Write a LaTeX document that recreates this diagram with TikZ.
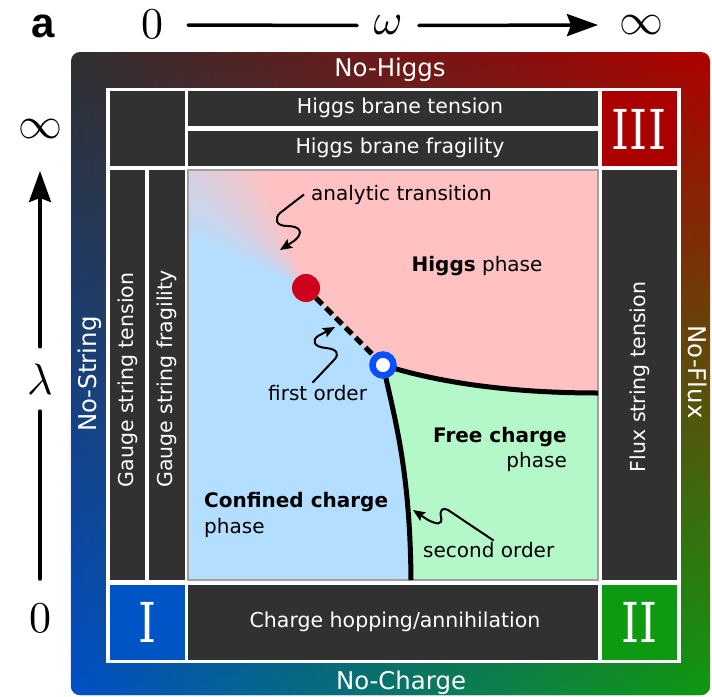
\documentclass[tikz,border=0pt]{standalone}
\usepackage[no-math]{fontspec}
\setmainfont{DejaVu Sans}
\newfontfamily\romanf{DejaVu Serif}
\newfontfamily\labf{Liberation Sans}
\usetikzlibrary{arrows.meta,fadings,calc}

\definecolor{cdark}{HTML}{313131}
\definecolor{cTL}{HTML}{303030}
\definecolor{cTR}{HTML}{B00000}
\definecolor{cBL}{HTML}{0050C8}
\definecolor{cBR}{HTML}{0E9A10}
\definecolor{cIII}{HTML}{AA0000}
\definecolor{cI}{HTML}{0055C6}
\definecolor{cII}{HTML}{0D9A12}
\definecolor{phblue}{HTML}{B3DEFF}
\definecolor{phpink}{HTML}{FFC1C1}
\definecolor{phgreen}{HTML}{B4F7C8}
\definecolor{cgray}{HTML}{A0A0A0}
\definecolor{cred}{HTML}{D0001C}
\definecolor{cring}{HTML}{0A50FF}

\tikzfading[name=fadedown, top color=transparent!100, bottom color=transparent!0]
\pgfdeclarelayer{back}
\pgfdeclarelayer{mid}
\pgfsetlayers{back,mid,main}
\newcommand{\axmath}[1]{\scalebox{4.4}{$#1$}}

\begin{document}
\begin{tikzpicture}[x=1pt,y=-1pt,
  cell/.style={fill=cdark, inner sep=0pt, outer sep=0pt},
  celltext/.style={text=white, font=\fontsize{20.5}{24}\selectfont, inner sep=0pt},
  edgetext/.style={text=white, font=\fontsize{24.4}{28}\selectfont, inner sep=0pt},
  phtext/.style={text=black, font=\fontsize{20}{24}\selectfont, inner sep=0pt},
  axlab/.style={inner sep=0pt},
  numeral/.style={text=white, font=\romanf\fontsize{55}{60}\selectfont, inner sep=0pt, xscale=0.83},
  axline/.style={line width=3.5pt, line cap=round},
  bigtip/.style={-{Stealth[length=31pt,width=22pt,inset=4pt]}},
  sq/.style={line width=2pt, -{Stealth[length=12pt,width=10pt,inset=2pt]}},
  bound/.style={line width=5pt},
]
\useasboundingbox (0,0) rectangle (712,696);

% ---------- axes ----------
\node[font=\labf\bfseries\fontsize{42}{46}\selectfont, inner sep=0pt, anchor=base] (lbla) at (43,37) {a};
\node[axlab] (tzero) at (152,24.5) {\axmath{0}};
\node[axlab, inner xsep=16.3pt] (omega) at (388,25.5) {\axmath{\omega}};
\node[axlab] (tinf) at (641,25.5) {\axmath{\infty}};
\coordinate (tx0) at (188,25);
\coordinate (tx1) at (598,25);
\draw[axline] (tx0) -- (omega.west);
\draw[axline, bigtip] (omega.east) -- (tx1);

\node[axlab] (linf) at (40,129) {\axmath{\infty}};
\node[axlab, inner ysep=16.7pt] (lambda) at (40,379) {\axmath{\lambda}};
\node[axlab] (lzero) at (40,618) {\axmath{0}};
\coordinate (ly1) at (40,171);
\coordinate (ly0) at (40,579);
\draw[axline, bigtip] (lambda.north) -- (ly1);
\draw[axline] (lambda.south) -- (ly0);

% ---------- critical points ----------
\node[circle, fill=cred, minimum size=28pt, inner sep=0pt] (crit) at (306,288) {};
\node[circle, draw=cring, line width=6.5pt, fill=white, minimum size=21pt, inner sep=0pt] (tri) at (383,365) {};
\coordinate (qa) at (598,393);
\coordinate (qb) at (411,580);

% ---------- frame, cells, phase regions ----------
\begin{pgfonlayer}{back}
  \shade[rounded corners=9pt, left color=cTL, right color=cTR] (71,52) rectangle (710,695);
  \shade[rounded corners=9pt, left color=cBL, right color=cBR, path fading=fadedown] (71,52) rectangle (710,695);
  \fill[white] (106,88) rectangle (681,663);

  \node[cell, minimum width=75pt, minimum height=75pt] (ctl) at (147.5,128.5) {};
  \node[cell, minimum width=410pt, minimum height=35pt] (chbt) at (393,108.5) {};
  \node[cell, minimum width=410pt, minimum height=35pt] (chbf) at (393,148.5) {};
  \node[cell, fill=cIII, minimum width=75pt, minimum height=75pt] (cIIIbox) at (639.5,128.5) {};
  \node[cell, minimum width=35pt, minimum height=410pt] (cgst) at (127.5,375) {};
  \node[cell, minimum width=36pt, minimum height=410pt] (cgsf) at (167,375) {};
  \node[cell, minimum width=75pt, minimum height=410pt] (cfst) at (639.5,375) {};
  \node[cell, fill=cI, minimum width=75pt, minimum height=75pt] (cIbox) at (147.5,622.5) {};
  \node[cell, minimum width=410pt, minimum height=75pt] (cchh) at (393,622.5) {};
  \node[cell, fill=cII, minimum width=75pt, minimum height=75pt] (cIIbox) at (639.5,622.5) {};

  \begin{scope}
    \clip (188,170) rectangle (598,580);
    \fill[phblue] (188,170) rectangle (598,580);
    \fill[phpink] (crit.center) -- (88,70) -- (700,70) -- (700,393) -- (qa)
      .. controls (500,393) and (430,380) .. (tri.center) -- cycle;
    \fill[phgreen] (tri.center) .. controls (395,420) and (410,470) .. (qb) -- (598,580) -- (qa)
      .. controls (500,393) and (430,380) .. (tri.center) -- cycle;
    \foreach \i in {0,...,24} {
      \pgfmathsetmacro\pp{4*\i}
      \pgfmathsetmacro\aa{200+2*\i}
      \pgfmathsetmacro\ab{\aa+2.4}
      \fill[phpink!\pp!phblue] (crit.center) -- ($(crit.center)+(\aa:420)$) -- ($(crit.center)+(\ab:420)$) -- cycle;
    }
  \end{scope}
  \draw[cgray, line width=2pt] (188,170) rectangle (598,580);
\end{pgfonlayer}

% ---------- phase boundaries ----------
\begin{pgfonlayer}{mid}
  \draw[bound] (tri.center) .. controls (430,380) and (500,393) .. (qa);
  \draw[bound] (tri.center) .. controls (395,420) and (410,470) .. (qb);
  \draw[bound, dash pattern=on 9pt off 5pt] (crit.center) -- (tri.center);
\end{pgfonlayer}

% ---------- texts ----------
\node[edgetext, anchor=base] (nohiggs) at (390,76) {No-Higgs};
\node[edgetext, anchor=base] (nocharge) at (401,689) {No-Charge};
\node[edgetext, rotate=90] (nostring) at (90,374) {No-String};
\node[edgetext, rotate=-90] (noflux) at (698,372) {No-Flux};

\node[celltext, anchor=base] (thbt) at (400,113) {Higgs brane tension};
\node[celltext, anchor=base] (thbf) at (400,153) {Higgs brane fragility};
\node[celltext, anchor=base] (tchh) at (395,627) {Charge hopping/annihilation};
\node[celltext, rotate=90] (tgst) at (128,380) {Gauge string tension};
\node[celltext, rotate=90] (tgsf) at (167,379) {Gauge string fragility};
\node[celltext, rotate=90] (tfst) at (640,377) {Flux string tension};

\node[numeral] (nIII) at (639,129) {III};
\node[numeral] (nI) at (147.5,622) {I};
\node[numeral] (nII) at (639.5,622.5) {II};

\node[phtext, anchor=base west] (lanal) at (311,200) {analytic transition};
\node[phtext, anchor=base] (lhiggs) at (477,271) {\textbf{Higgs} phase};
\node[phtext, anchor=base west] (lfirst) at (268,400) {first order};
\node[phtext, anchor=base east] (lfree) at (567,442) {\textbf{Free charge}};
\node[phtext, anchor=base east] (lfreep) at (567,467) {phase};
\node[phtext, anchor=base west] (lconf) at (204,507) {\textbf{Confined charge}};
\node[phtext, anchor=base west] (lconfp) at (204,533) {phase};
\node[phtext, anchor=base west] (lsecond) at (423,557) {second order};

% ---------- squiggly pointers ----------
\coordinate (sqa) at (280,250);
\coordinate (sqb) at (335,327);
\coordinate (sqc) at (413,510);
\draw[sq] ([xshift=-7pt]lanal.west) -- (280,213) .. controls (274,219) and (276,226) .. (287,226)
  .. controls (301,226) and (304,233) .. (294,241) -- (sqa);
\draw[sq] ([xshift=-5pt,yshift=2pt]lfirst.north) -- (334,360) .. controls (340,354) and (337,349) .. (326,348)
  .. controls (313,347) and (312,340) .. (318,336) -- (sqb);
\draw[sq] ([xshift=5pt,yshift=1pt]lsecond.north) -- (448,510) .. controls (443,507) and (439,510) .. (441,517)
  .. controls (443,526) and (436,524) .. (428,520) -- (sqc);
\end{tikzpicture}
\end{document}
